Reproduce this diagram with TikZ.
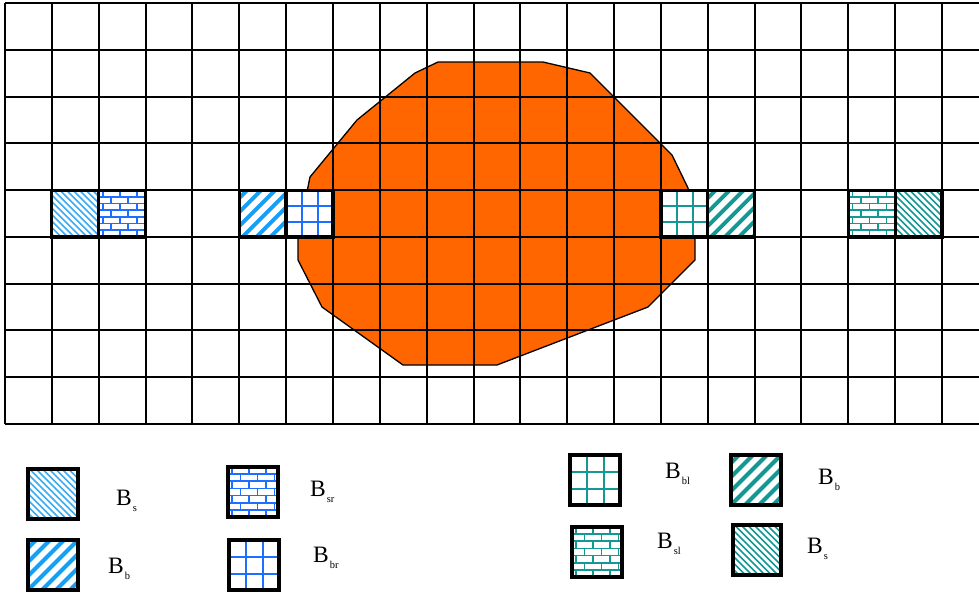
\documentclass[tikz,border=0pt]{standalone}
\usepackage{fontspec}
\setmainfont{Liberation Serif}
\definecolor{orangefill}{RGB}{255,102,0}
\definecolor{lightblu}{RGB}{60,172,242}
\definecolor{skyblu}{RGB}{20,160,245}
\definecolor{brickblu}{RGB}{30,110,255}
\definecolor{tealc}{RGB}{20,152,148}
\newcommand\patthin[2]{\foreach \i in {-70,-63.5,...,70} \draw[#2,line width=1.6pt] (\i,0) -- ++(70,70);}
\newcommand\patthick[2]{\foreach \i in {-6,8,...,120} \draw[#2,line width=4pt] (\i,0) -- ++(-70,70);}
\newcommand\patbrick[2]{\foreach \r in {0,...,7}{%
  \draw[#2,line width=1.6pt] (0,\r*#1/7) -- (#1,\r*#1/7);
  \pgfmathsetmacro\off{mod(\r,2)*8.5+4}
  \foreach \k in {0,1,2,3}{\draw[#2,line width=1.6pt] (\off+\k*17,\r*#1/7) -- ++(0,#1/7);}}}
\newcommand\patgrid[2]{\foreach \t in {0.345,0.68}{%
  \draw[#2,line width=1.6pt] (\t*#1,0) -- (\t*#1,#1);
  \draw[#2,line width=1.6pt] (0,\t*#1) -- (#1,\t*#1);}}
\newcommand\patcell[5]{%
  \begin{scope}[shift={(#1,#2)}]
    \begin{scope}
      \clip (0,0) rectangle (#3,#3);
      \fill[white] (0,0) rectangle (#3,#3);
      \csname pat#4\endcsname{#3}{#5}
    \end{scope}
  \end{scope}}
\newcommand\blab[1]{{\fontsize{23.5}{23.5}\selectfont B}\kern1pt\raisebox{-6pt}{\fontsize{10.5}{10.5}\selectfont #1}}
\tikzset{
  gridline/.style={black,line width=2pt},
  cellborder/.style={black,line width=3.2pt},
  legborder/.style={black,line width=3.8pt},
  blob/.style={fill=orangefill,draw=black,line width=1.3pt,line join=round},
  lab/.style={anchor=base west,inner sep=0pt}
}
\begin{document}
\begin{tikzpicture}[x=1pt,y=-1pt]
\useasboundingbox (0,0) rectangle (979,592);
\fill[white] (0,0) rectangle (979,592);
% orange region
\draw[blob] (438,62) -- (543,62) -- (590,73) -- (660,143) -- (672,155) -- (688,188)
  -- (695,240) -- (695,260) -- (648,307) -- (497,365) -- (403,365) -- (322,307)
  -- (298,260) -- (298,237) -- (310,177) -- (357,120) -- (415,73) -- cycle;
% grid
\foreach \k in {0,...,20} \draw[gridline] (5+46.85*\k,3) -- (5+46.85*\k,424);
\foreach \j in {0,...,9} \draw[gridline] (5,3+46.78*\j) -- (979,3+46.78*\j);
% pattern cells in the grid
\def\ry{190.12}
\def\cs{46.8}
\patcell{51.85}{\ry}{\cs}{thin}{lightblu}
\patcell{98.7}{\ry}{\cs}{brick}{brickblu}
\patcell{239.25}{\ry}{\cs}{thick}{skyblu}
\patcell{286.1}{\ry}{\cs}{grid}{brickblu}
\patcell{660.9}{\ry}{\cs}{grid}{tealc}
\patcell{707.75}{\ry}{\cs}{thick}{tealc}
\patcell{848.3}{\ry}{\cs}{brick}{tealc}
\patcell{895.15}{\ry}{\cs}{thin}{tealc}
\foreach \x in {51.85,98.7,239.25,286.1,660.9,707.75,848.3,895.15}
  \draw[cellborder] (\x,\ry) rectangle ++(\cs,\cs);
% legend boxes
\patcell{28}{469}{50}{thin}{lightblu}
\draw[legborder] (28,469) rectangle ++(50,50);
\patcell{28}{540}{50}{thick}{skyblu}
\draw[legborder] (28,540) rectangle ++(50,50);
\patcell{228}{467}{50}{brick}{brickblu}
\draw[legborder] (228,467) rectangle ++(50,50);
\patcell{229}{540}{50}{grid}{brickblu}
\draw[legborder] (229,540) rectangle ++(50,50);
\patcell{570}{455}{50}{grid}{tealc}
\draw[legborder] (570,455) rectangle ++(50,50);
\patcell{731}{455}{50}{thick}{tealc}
\draw[legborder] (731,455) rectangle ++(50,50);
\patcell{572}{527}{50}{brick}{tealc}
\draw[legborder] (572,527) rectangle ++(50,50);
\patcell{733}{525}{48}{thin}{tealc}
\draw[legborder] (733,525) rectangle ++(48,50);
% labels
\node[lab] (ls1) at (116,505) {\blab{s}};
\node[lab] (lb1) at (108,573) {\blab{b}};
\node[lab] (lsr) at (310,496) {\blab{sr}};
\node[lab] (lbr) at (313,562) {\blab{br}};
\node[lab] (lbl) at (665,478) {\blab{bl}};
\node[lab] (lb2) at (818,484) {\blab{b}};
\node[lab] (lsl) at (657,548) {\blab{sl}};
\node[lab] (ls2) at (807,553) {\blab{s}};
\end{tikzpicture}
\end{document}
